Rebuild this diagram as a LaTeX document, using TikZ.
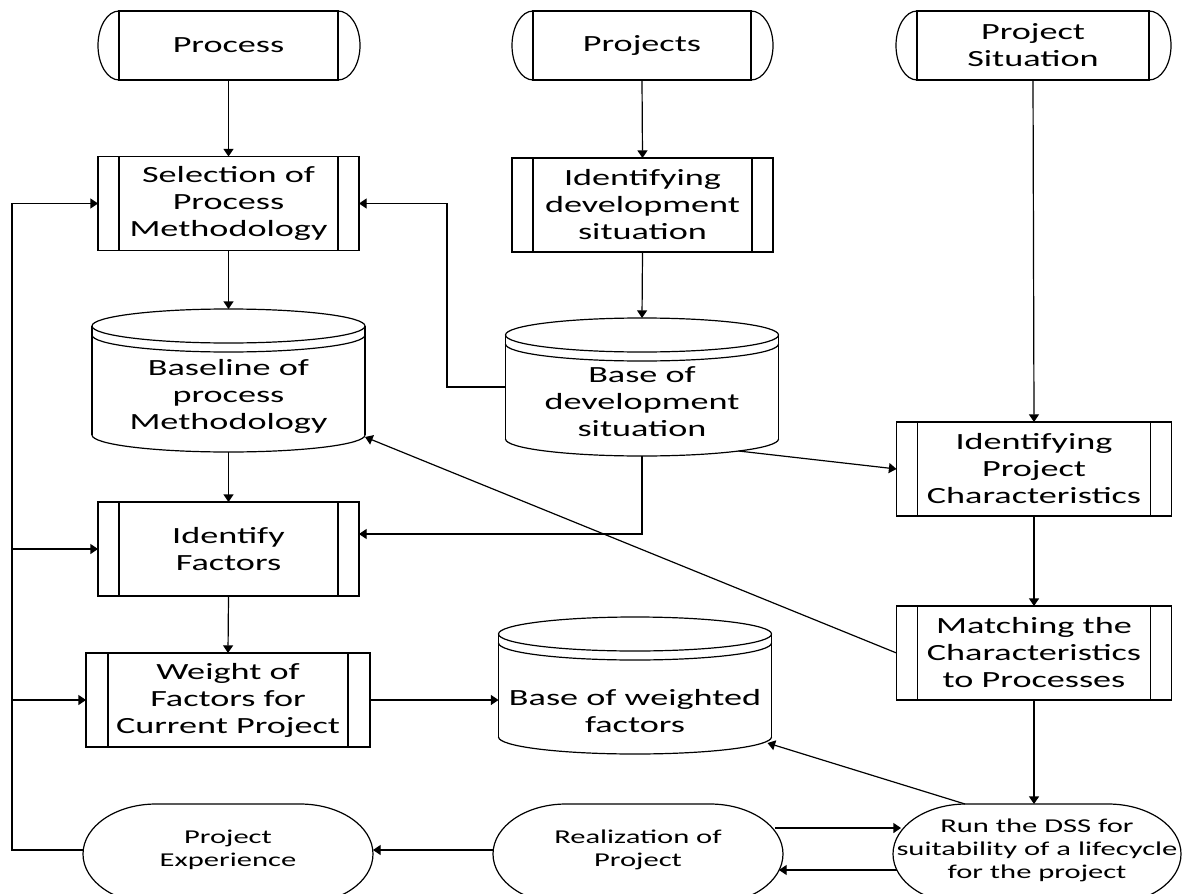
\documentclass[tikz,border=0pt]{standalone}
\usepackage{fontspec}
\setmainfont{Carlito}[FakeStretch=1.56]
\usetikzlibrary{arrows.meta}

\begin{document}
\begin{tikzpicture}[x=0.5pt, y=-0.5pt,
  line width=0.6pt,
  every node/.style={inner sep=0pt, outer sep=0pt, align=center},
  bigtxt/.style={font=\fontsize{11.6pt}{13.5pt}\selectfont},
  smalltxt/.style={font=\fontsize{9.8pt}{11.5pt}\selectfont},
  terminal/.style={draw, bigtxt, minimum height=34.5pt},
  procbox/.style={draw, bigtxt, minimum height=47pt},
  store/.style={minimum width=136.5pt},
  storetext/.style={bigtxt},
  oval/.style={smalltxt, minimum height=50pt},
  flow/.style={-{Triangle[length=3.8pt,width=5pt]}},
]
\useasboundingbox (0,0) rectangle (1187,893);
\clip (0,0) rectangle (1187,893);

% ---- start terminals ----
\node[terminal, minimum width=109.5pt] (tProc) at (228.5,45.5) {Process};
\node[terminal, minimum width=109pt]   (tProj) at (642,45.5) {Projects};
\node[terminal, minimum width=116pt]   (tSit)  at (1033,45.5) {Project\\Situation};

\foreach \n in {tProc,tProj,tSit}{
  \draw (\n.north west) arc[start angle=90, end angle=270, x radius=10.5pt, y radius=17.25pt];
  \draw (\n.north east) arc[start angle=90, end angle=-90, x radius=11pt, y radius=17.25pt];
}

% ---- predefined process boxes ----
\node[procbox, minimum width=130.5pt]  (sel)  at (228.5,203.5) {Selection of\\Process\\Methodology};
\node[procbox, minimum width=130.5pt]  (idev) at (642.5,205) {Identifying\\development\\situation};
\node[procbox, minimum width=130.5pt]  (ifac) at (228.5,549) {Identify\\Factors};
\node[procbox, minimum width=142pt]    (wgt)  at (228,700) {Weight of\\Factors for\\Current Project};
\node[procbox, minimum width=137.5pt]  (ipc)  at (1034,469) {Identifying\\Project\\Characteristics};
\node[procbox, minimum width=137.5pt]  (mat)  at (1034,653) {Matching the\\Characteristics\\to Processes};

\foreach \n/\d in {sel/10.5pt, idev/10.5pt, ifac/10.5pt, wgt/11pt, ipc/10.5pt, mat/10.5pt}{
  \draw ([xshift=\d]\n.north west) -- ([xshift=\d]\n.south west);
  \draw ([xshift=-\d]\n.north east) -- ([xshift=-\d]\n.south east);
}

% ---- data stores (cylinders) ----
\node[store, minimum height=71.5pt] (cBase) at (228.5,380.5) {};
\node[store, minimum height=69pt]   (cDev)  at (642,387) {};
\node[store, minimum height=68.5pt] (cWf)   at (635,685.5) {};

\foreach \n in {cBase,cDev,cWf}{
  \draw ([yshift=-8.5pt]\n.north) ellipse[x radius=68.25pt, y radius=8.5pt];
  \draw ([yshift=-13pt]\n.north west) arc[start angle=180, end angle=360, x radius=68.25pt, y radius=8.5pt];
  \draw ([yshift=-8.5pt]\n.north west) -- ([yshift=8.5pt]\n.south west);
  \draw ([yshift=-8.5pt]\n.north east) -- ([yshift=8.5pt]\n.south east);
  \draw ([yshift=8.5pt]\n.south west) arc[start angle=180, end angle=360, x radius=68.25pt, y radius=8.5pt];
}

\node[storetext] (cBaseT) at (228.5,396) {Baseline of\\process\\Methodology};
\node[storetext] (cDevT)  at (642,402)   {Base of\\development\\situation};
\node[storetext] (cWfT)   at (635,711)   {Base of weighted\\factors};

% ---- ovals (running past the lower edge) ----
\node[oval, minimum width=145pt] (sExp)  at (228,854)  {};
\node[oval, minimum width=145pt] (sReal) at (638,854)  {};
\node[oval, minimum width=144pt] (sDss)  at (1037,854) {};

\foreach \n in {sExp,sReal,sDss}{
  \draw ([xshift=36.5pt]\n.north west) -- ([xshift=-36.5pt]\n.north east)
        arc[start angle=90, end angle=-90, x radius=36.5pt, y radius=25pt]
        -- ([xshift=36.5pt]\n.south west)
        arc[start angle=270, end angle=90, x radius=36.5pt, y radius=25pt] -- cycle;
}

\node[smalltxt] (sExpT)  at (228,850)  {Project\\Experience};
\node[smalltxt] (sRealT) at (638,850)  {Realization of\\Project};
\node[smalltxt] (sDssT)  at (1037,850) {Run the DSS for\\suitability of a lifecycle\\for the project};

% ---- connectors ----
\draw[flow] (tProc.south) -- (sel.north);
\draw[flow] (sel.south) -- (cBase.north);
\draw[flow] (cBase.south) -- (ifac.north);
\draw[flow] (ifac.south) -- (wgt.north);
\draw[flow] (wgt.east) -- (wgt.east -| cWf.west);

\draw[flow] (tProj.south) -- (idev.north);
\draw[flow] (idev.south) -- (cDev.north);
\coordinate (jog) at (447,387);
\draw[flow] (cDev.west) -- (jog) |- (sel.east);
\draw[flow] (cDev.south) |- ([yshift=7.5pt]ifac.east);
\draw[flow] ([xshift=-20pt,yshift=2.5pt]cDev.south east) -- (ipc.west);

\draw[flow] (tSit.south) -- (ipc.north);
\draw[flow] (ipc.south) -- (mat.north);
\draw[flow] (mat.south) -- (mat.south |- sDss.north);
\draw[flow] (mat.west) -- ([yshift=7.5pt]cBase.south east);

\draw[flow] ([xshift=36pt]sDss.north west) -- ([xshift=-2pt,yshift=5.5pt]cWf.south east);
\draw[flow] ([xshift=-4pt,yshift=13pt]sReal.east) -- ([xshift=4pt,yshift=13pt]sDss.west);
\draw[flow] ([xshift=2pt,yshift=-8pt]sDss.west) -- ([xshift=-2pt,yshift=-8pt]sReal.east);
\draw[flow] ([yshift=2pt]sReal.west) -- ([yshift=2pt]sExp.east);

% feedback rail on the left
\coordinate (railBot) at (12,850);
\coordinate (railTop) at (12,203.5);
\draw[flow] ([yshift=2pt]sExp.west) -- (railBot) -- (railTop) -- (sel.west);
\draw[flow] (railBot |- ifac.west) -- (ifac.west);
\draw[flow] (railBot |- wgt.west) -- (wgt.west);
\end{tikzpicture}
\end{document}
